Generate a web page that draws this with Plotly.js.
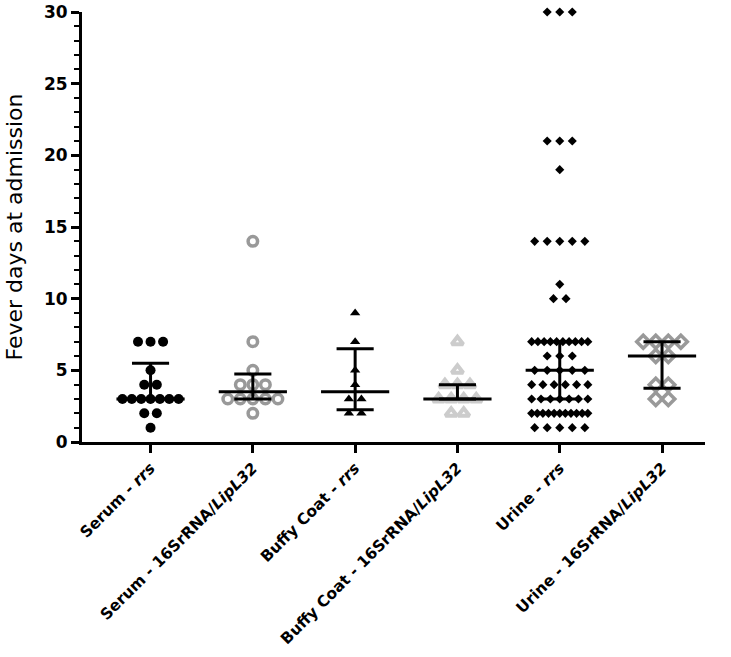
<!DOCTYPE html>
<html>
<head>
<meta charset="utf-8">
<script src="https://cdn.plot.ly/plotly-3.0.1.min.js"></script>
<style>html,body{margin:0;padding:0;background:#fff;}#chart{width:731px;height:657px;}</style>
</head>
<body>
<div id="chart"></div>
<script>
// ---- data ----
const categories = ["Serum - <i>rrs</i>", "Serum - 16SrRNA/<i>LipL32</i>", "Buffy Coat - <i>rrs</i>",
  "Buffy Coat - 16SrRNA/<i>LipL32</i>", "Urine - <i>rrs</i>", "Urine - 16SrRNA/<i>LipL32</i>"];
const serumRrs = [7,7,7,5,4,4,3,3,3,3,3,3,3,2,2,1];
const serumLip = [14,7,5,4,4,4,3,3,3,3,3,2];
const buffyRrs = [9,7,5,4,3,3,2,2];
const buffyLip = [7,5,4,4,4,3,3,3,3,2,2];
const urineRrs = [30,30,30,21,21,21,19,14,14,14,14,14,11,10,10,
  7,7,7,7,7,7,7,7,7,7,6,6,6,5,5,5,5,5,4,4,4,4,4,4,3,3,3,3,3,3,3,
  2,2,2,2,2,2,2,2,2,2,2,1,1,1,1,1];
const urineLip = [7,7,7,7,6,6,4,4,3,3];
const medians = [3, 3.5, 3.5, 3, 5, 6];
const q1s = [3, 3, 2.25, 3, 3, 3.75];
const q3s = [5.5, 4.75, 6.5, 4, 7, 7];

// ---- styles ----
const groups = [serumRrs, serumLip, buffyRrs, buffyLip, urineRrs, urineLip];
const markerStyles = [
  {symbol:'circle', size:10, color:'#000', line:{width:0}},
  {symbol:'circle-open', size:9.5, color:'#999999', line:{width:3.5, color:'#999999'}},
  {symbol:'triangle-up', size:9, color:'#000', line:{width:0}},
  {symbol:'triangle-up-open', size:10, color:'#cccccc', line:{width:4, color:'#cccccc'}},
  {symbol:'diamond', size:7, color:'#000', line:{width:0}},
  {symbol:'diamond-open', size:10, color:'#999999', line:{width:3.5, color:'#999999'}}
];
const pxPerUnit = 102;
const baseSpacing = 12.5 / pxPerUnit;
const maxSpan = 56 / pxPerUnit;

const traces = [];
groups.forEach((vals, gi) => {
  const counts = {};
  vals.forEach(v => counts[v] = (counts[v] || 0) + 1);
  const xs = [], ys = [];
  Object.keys(counts).forEach(k => {
    const n = counts[k];
    let sp = baseSpacing;
    if (n > 1 && sp * (n - 1) > maxSpan) sp = maxSpan / (n - 1);
    for (let i = 0; i < n; i++) {
      xs.push(gi + (i - (n - 1) / 2) * sp);
      ys.push(Number(k));
    }
  });
  traces.push({type:'scatter', mode:'markers', x:xs, y:ys, cliponaxis:false,
    marker:markerStyles[gi], hoverinfo:'skip', showlegend:false});
});

// median / IQR lines
const medHalf = 34 / pxPerUnit, capHalf = 18.5 / pxPerUnit;
const lx = [], ly = [];
medians.forEach((m, gi) => {
  lx.push(gi - medHalf, gi + medHalf, null); ly.push(m, m, null);
  lx.push(gi - capHalf, gi + capHalf, null); ly.push(q1s[gi], q1s[gi], null);
  lx.push(gi - capHalf, gi + capHalf, null); ly.push(q3s[gi], q3s[gi], null);
  lx.push(gi, gi, null); ly.push(q1s[gi], q3s[gi], null);
});
traces.push({type:'scatter', mode:'lines', x:lx, y:ly, line:{color:'#000', width:3},
  hoverinfo:'skip', showlegend:false, cliponaxis:false});

const fontFam = 'DejaVu Sans, Verdana, sans-serif';
const layout = {
  width:731, height:657,
  margin:{l:82, r:26, t:12, b:215},
  paper_bgcolor:'#fff', plot_bgcolor:'#fff',
  showlegend:false,
  xaxis:{
    range:[-0.67, 5.42], tickvals:[0,1,2,3,4,5], ticktext:categories,
    tickangle:-45, showline:true, linecolor:'#000', linewidth:3,
    ticks:'outside', ticklen:8, tickwidth:3, tickcolor:'#000',
    showgrid:false, zeroline:false,
    tickfont:{family:fontFam, size:15.5, color:'#000', weight:'bold'}
  },
  yaxis:{
    range:[0,30], tickvals:[0,5,10,15,20,25,30], showline:true, linecolor:'#000', linewidth:3,
    ticks:'outside', ticklen:8, tickwidth:3, tickcolor:'#000',
    minor:{dtick:1, ticks:'outside', ticklen:5, tickwidth:2, tickcolor:'#000', showgrid:false},
    showgrid:false, zeroline:false,
    tickfont:{family:fontFam, size:17, color:'#000', weight:'bold'},
    title:{text:'Fever days at admission', font:{family:fontFam, size:22, color:'#000'}, standoff:16}
  }
};
Plotly.newPlot('chart', traces, layout, {staticPlot:true, displayModeBar:false});
</script>
</body>
</html>
